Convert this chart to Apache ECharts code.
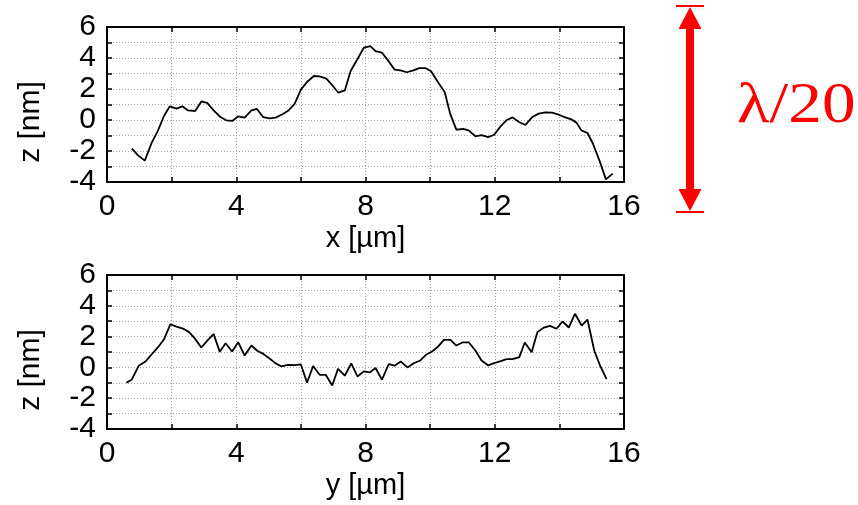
<!DOCTYPE html>
<html>
<head>
<meta charset="utf-8">
<script src="https://cdn.jsdelivr.net/npm/echarts@6/dist/echarts.min.js"></script>
<style>
  html, body { margin: 0; padding: 0; background: #fff; }
  #chart { width: 858px; height: 505px; }
</style>
</head>
<body>
<div id="chart"></div>
<script>
// Height profile along x (top panel)
var xTop = [0.77, 0.96, 1.17, 1.37, 1.58, 1.76, 1.94, 2.15, 2.33, 2.51, 2.73, 2.92, 3.10, 3.30, 3.51, 3.69, 3.88,
  4.06, 4.26, 4.47, 4.64, 4.83, 5.04, 5.22, 5.43, 5.62, 5.81, 6.00, 6.19, 6.40, 6.58, 6.79, 6.97, 7.16, 7.36,
  7.54, 7.74, 7.95, 8.15, 8.31, 8.51, 8.72, 8.90, 9.08, 9.28, 9.48, 9.67, 9.85, 10.03, 10.24, 10.45, 10.62,
  10.81, 11.02, 11.19, 11.40, 11.59, 11.80, 11.98, 12.18, 12.36, 12.55, 12.75, 12.95, 13.16, 13.36, 13.57,
  13.77, 13.98, 14.16, 14.37, 14.53, 14.68, 14.87, 15.04, 15.25, 15.44, 15.65];
var zTop = [-1.85, -2.28, -2.62, -1.53, -0.67, 0.24, 0.88, 0.73, 0.88, 0.62, 0.58, 1.20, 1.10, 0.62, 0.19, -0.02, -0.06,
  0.24, 0.15, 0.62, 0.71, 0.19, 0.11, 0.15, 0.37, 0.62, 1.05, 1.96, 2.45, 2.84, 2.82, 2.67, 2.24, 1.76, 1.91,
  3.16, 3.89, 4.67, 4.77, 4.45, 4.34, 3.78, 3.25, 3.20, 3.08, 3.20, 3.35, 3.35, 3.14, 2.45, 1.81, 0.41,
  -0.62, -0.58, -0.67, -1.05, -0.97, -1.10, -0.95, -0.41, -0.02, 0.17, -0.13, -0.32, 0.19, 0.41, 0.49,
  0.47, 0.34, 0.19, 0.04, -0.17, -0.67, -0.84, -1.53, -2.67, -3.83, -3.46];

// Height profile along y (bottom panel)
var yBottom = [0.60, 0.77, 0.98, 1.19, 1.37, 1.58, 1.76, 1.96, 2.15, 2.35, 2.54, 2.71, 2.92, 3.11, 3.30, 3.49, 3.67,
  3.87, 4.06, 4.26, 4.47, 4.65, 4.85, 5.04, 5.22, 5.40, 5.60, 5.81, 6.00, 6.19, 6.38, 6.58, 6.77, 6.97, 7.15,
  7.36, 7.56, 7.75, 7.95, 8.13, 8.31, 8.51, 8.72, 8.90, 9.09, 9.30, 9.49, 9.68, 9.87, 10.06, 10.25, 10.43,
  10.63, 10.81, 11.00, 11.20, 11.40, 11.59, 11.80, 11.98, 12.16, 12.37, 12.55, 12.76, 12.93, 13.14, 13.32,
  13.52, 13.71, 13.91, 14.10, 14.29, 14.48, 14.69, 14.87, 15.08, 15.25, 15.46];
var zBottom = [-1.00, -0.78, 0.10, 0.38, 0.82, 1.31, 1.81, 2.80, 2.65, 2.52, 2.29, 1.90, 1.29, 1.75, 2.16, 1.01, 1.57,
  1.03, 1.64, 0.77, 1.42, 1.08, 0.86, 0.56, 0.26, 0.06, 0.17, 0.15, 0.19, -0.99, 0.09, -0.48, -0.48, -1.17, -0.09,
  -0.54, 0.26, -0.59, -0.26, -0.33, -0.04, -0.80, 0.22, 0.11, 0.38, 0.00, 0.27, 0.43, 0.82, 1.03, 1.36, 1.79,
  1.79, 1.42, 1.62, 1.62, 1.10, 0.45, 0.13, 0.28, 0.39, 0.54, 0.54, 0.67, 1.62, 0.99, 2.29,
  2.59, 2.70, 2.51, 2.98, 2.59, 3.48, 2.72, 3.11, 1.08, 0.17, -0.76];

var posMin = 0, posMax = 16, posStep = 2, posLabelStep = 4;
var zMin = -4, zMax = 6, zStep = 1, zLabelStep = 2;
var topXName = 'x [µm]';
var bottomXName = 'y [µm]';
var zName = 'z [nm]';
var scaleLabel = 'λ/20';

function pairs(xs, ys) {
  return xs.map(function (x, i) { return [x, ys[i]]; });
}

var sansFont = '"Liberation Sans", Arial, sans-serif';
var axisColor = '#000';
var gridLine = { show: true, lineStyle: { color: '#a6a6a6', width: 1, type: [1, 2] } };

function xAxes(gridIndex, name) {
  return [{
    type: 'value', gridIndex: gridIndex, position: 'bottom',
    min: posMin, max: posMax, interval: posStep,
    name: name, nameLocation: 'middle', nameGap: 42,
    nameTextStyle: { fontFamily: sansFont, fontSize: 29, color: '#000' },
    axisLine: { show: true, onZero: false, lineStyle: { color: axisColor, width: 2 } },
    axisTick: { show: true, inside: true, length: 5, lineStyle: { color: axisColor, width: 1.5 } },
    axisLabel: {
      show: true, margin: 10, fontFamily: sansFont, fontSize: 30, color: '#000',
      showMinLabel: true, showMaxLabel: true,
      formatter: function (v) { return v % posLabelStep === 0 ? String(v) : ''; }
    },
    splitLine: gridLine
  }, {
    type: 'value', gridIndex: gridIndex, position: 'top',
    min: posMin, max: posMax, interval: posStep,
    axisLine: { show: true, onZero: false, lineStyle: { color: axisColor, width: 2 } },
    axisTick: { show: true, inside: true, length: 5, lineStyle: { color: axisColor, width: 1.5 } },
    axisLabel: { show: false },
    splitLine: { show: false }
  }];
}

function yAxes(gridIndex) {
  return [{
    type: 'value', gridIndex: gridIndex, position: 'left',
    min: zMin, max: zMax, interval: zStep,
    axisLine: { show: true, onZero: false, lineStyle: { color: axisColor, width: 2 } },
    axisTick: { show: true, inside: true, length: 5, lineStyle: { color: axisColor, width: 1.5 } },
    axisLabel: {
      show: true, margin: 11, fontFamily: sansFont, fontSize: 30, color: '#000',
      showMinLabel: true, showMaxLabel: true,
      formatter: function (v) { return v % zLabelStep === 0 ? String(v) : ''; }
    },
    splitLine: gridLine
  }, {
    type: 'value', gridIndex: gridIndex, position: 'right',
    min: zMin, max: zMax, interval: zStep,
    axisLine: { show: true, onZero: false, lineStyle: { color: axisColor, width: 2 } },
    axisTick: { show: true, inside: true, length: 5, lineStyle: { color: axisColor, width: 1.5 } },
    axisLabel: { show: false },
    splitLine: { show: false }
  }];
}

var chart = echarts.init(document.getElementById('chart'), null, { renderer: 'canvas' });

// Red double-headed scale arrow to the right of the top panel
var ax = 690, aTop = 6, aBot = 212, headLen = 23, headHalf = 11.5, shaftHalf = 4;
var red = '#ff0000';

chart.setOption({
  animation: false,
  backgroundColor: '#fff',
  grid: [
    { left: 107, top: 27, width: 517, height: 155, outerBoundsMode: 'none', containLabel: false },
    { left: 107, top: 275, width: 517, height: 154, outerBoundsMode: 'none', containLabel: false }
  ],
  xAxis: xAxes(0, topXName).concat(xAxes(1, bottomXName)),
  yAxis: yAxes(0).concat(yAxes(1)),
  series: [
    {
      type: 'line', xAxisIndex: 0, yAxisIndex: 0, data: pairs(xTop, zTop),
      symbol: 'none', lineStyle: { color: '#000', width: 1.8 }, z: 5
    },
    {
      type: 'line', xAxisIndex: 2, yAxisIndex: 2, data: pairs(yBottom, zBottom),
      symbol: 'none', lineStyle: { color: '#000', width: 1.8 }, z: 5
    }
  ],
  graphic: [
    {
      type: 'text', x: 31, y: 122, rotation: Math.PI / 2,
      style: { text: zName, fontFamily: sansFont, fontSize: 30, fill: '#000', align: 'center', verticalAlign: 'middle' }
    },
    {
      type: 'text', x: 31, y: 370, rotation: Math.PI / 2,
      style: { text: zName, fontFamily: sansFont, fontSize: 30, fill: '#000', align: 'center', verticalAlign: 'middle' }
    },
    // end bars
    { type: 'line', shape: { x1: ax - 14, y1: aTop, x2: ax + 14, y2: aTop }, style: { stroke: red, lineWidth: 2 } },
    { type: 'line', shape: { x1: ax - 14, y1: aBot, x2: ax + 14, y2: aBot }, style: { stroke: red, lineWidth: 2 } },
    // shaft
    { type: 'rect', shape: { x: ax - shaftHalf, y: aTop + headLen - 2, width: shaftHalf * 2, height: aBot - aTop - 2 * headLen + 4 }, style: { fill: red } },
    // heads
    { type: 'polygon', shape: { points: [[ax, aTop + 1], [ax - headHalf, aTop + headLen], [ax + headHalf, aTop + headLen]] }, style: { fill: red } },
    { type: 'polygon', shape: { points: [[ax, aBot - 1], [ax - headHalf, aBot - headLen], [ax + headHalf, aBot - headLen]] }, style: { fill: red } },
    {
      type: 'text', x: 737, y: 107, scaleX: 1.16,
      style: { text: scaleLabel, fontFamily: '"Liberation Serif", "Times New Roman", serif', fontSize: 58, fill: red, align: 'left', verticalAlign: 'middle' }
    }
  ]
});
</script>
</body>
</html>
